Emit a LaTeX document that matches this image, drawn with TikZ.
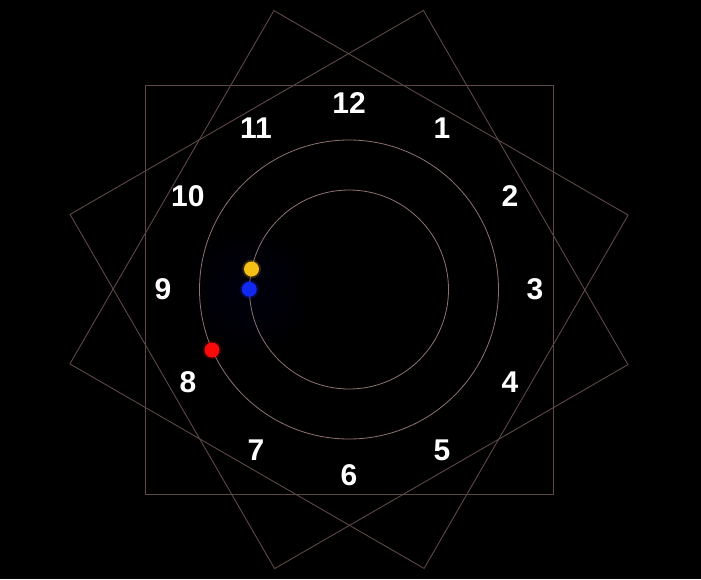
\documentclass[tikz,border=0pt]{standalone}
\usepackage{fontspec}
\setmainfont{Liberation Sans}
\usetikzlibrary{calc}
\definecolor{bg}{RGB}{0,0,0}
\definecolor{sqline}{RGB}{92,72,70}
\definecolor{circline}{RGB}{140,115,112}
\definecolor{dotyellow}{RGB}{245,192,22}
\definecolor{dotblue}{RGB}{16,40,240}
\definecolor{dotred}{RGB}{250,10,10}
\tikzset{
  sq/.style={draw=sqline, line width=0.9pt},
  ring/.style={draw=circline, line width=0.8pt},
  num/.style={text=white, font=\bfseries\fontsize{30}{30}\selectfont, inner sep=0pt},
  hand/.style={circle, inner sep=0pt, minimum size=15pt},
}
\begin{document}
\begin{tikzpicture}[x=1pt,y=-1pt]
\fill[bg] (0,0) rectangle (701,579);
\useasboundingbox (0,0) rectangle (701,579);
\coordinate (c) at (349,289.5);
% faint glow
\shade[inner color=blue!50!black, outer color=bg, opacity=0.12] (249,289.5) circle (70);
% squares
\foreach \r in {0,30,60}{
  \draw[sq, rotate around={\r:(c)}] ([shift={(-204,-204.5)}]c) rectangle ([shift={(204,204.5)}]c);
}
% rings
\draw[ring] (c) circle (99.5);
\draw[ring] (c) circle (149.5);
% numbers
\foreach \n in {1,...,12}{
  \node[num] (n\n) at ($(c)+({30*\n-90}:186)$) {\n};
}
% hands
\foreach \col/\nm/\px/\py in {dotyellow/hy/251.5/269, dotblue/hb/249.3/289.3, dotred/hr/212/350}{
  \fill[\col, opacity=0.2] (\px,\py) circle (9.5);
  \node[hand, fill=\col] (\nm) at (\px,\py) {};
}
\end{tikzpicture}
\end{document}
